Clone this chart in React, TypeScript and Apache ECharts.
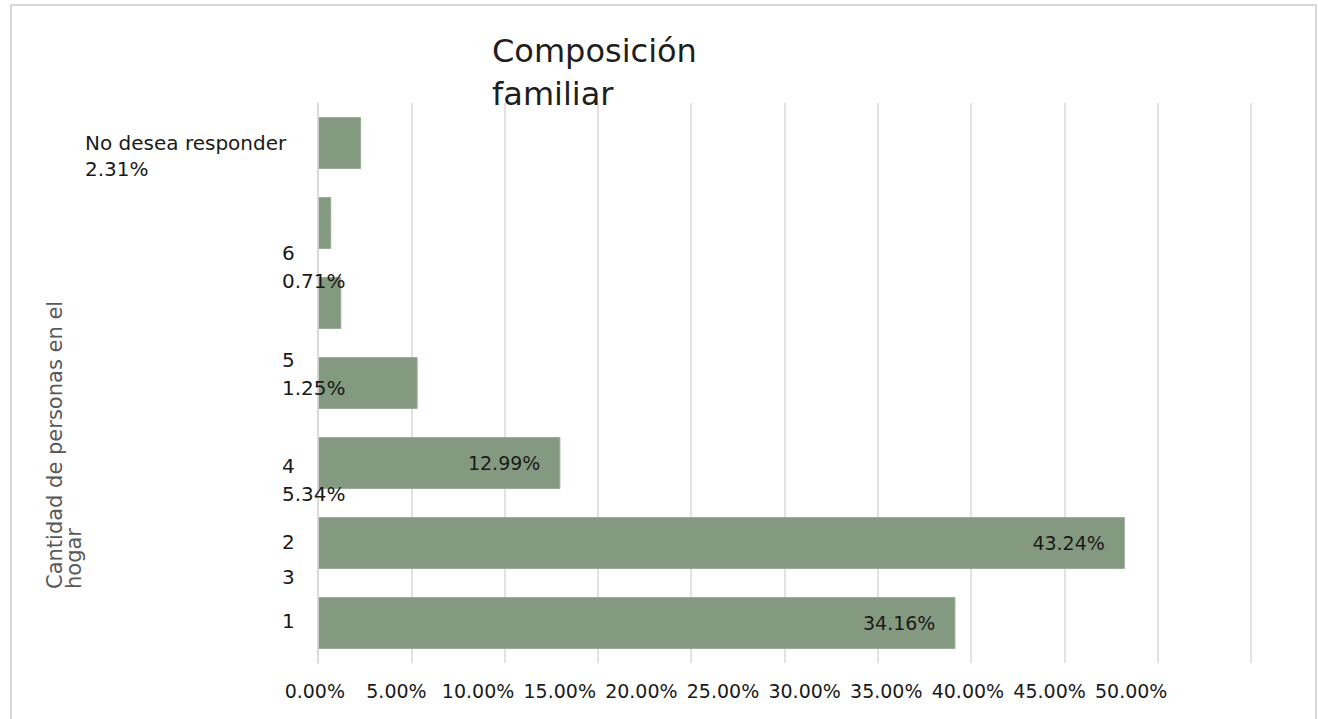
import React, { useEffect, useRef } from "react";
import * as echarts from "echarts";

// Underlying categories (top to bottom) and values (%)
const categories = ["No desea responder", "6", "5", "4", "3", "2", "1"];
const values = [2.31, 0.71, 1.25, 5.34, 12.99, 43.24, 34.16];
const showInsideLabel = [false, false, false, false, true, true, true];
// Texts displayed beside the axis (as in the source picture)
const yLabelLines = [
  ["No desea responder", "2.31%"],
  [],
  ["6", "0.71%"],
  ["5", "1.25%"],
  ["4", "5.34%"],
  ["2", "3"],
  ["1"],
];
const yLabelShift = [13, 0, -36, -9, 17, 16, -2];
const tickLabels = ["0.00%", "5.00%", "10.00%", "15.00%", "20.00%", "25.00%", "30.00%", "35.00%", "40.00%", "45.00%", "50.00%"];
const titleText = "Composición\nfamiliar";
const yAxisTitle = "Cantidad de personas en el\nhogar";

const FONT = "'DejaVu Sans', Verdana, sans-serif";

export default function App() {
  const ref = useRef<HTMLDivElement>(null);
  useEffect(() => {
    if (!ref.current) return;
    const chart = echarts.init(ref.current, undefined, { renderer: "svg" });
    const catData = categories.map((c, i) => {
      const s = yLabelShift[i];
      const pad = s >= 0 ? [2 * s, 0, 0, 0] : [0, 0, -2 * s, 0];
      return { value: c, textStyle: { padding: pad } };
    });
    chart.setOption({
      animation: false,
      backgroundColor: "#ffffff",
      title: {
        text: titleText,
        left: 487,
        top: 24,
        textStyle: { fontFamily: FONT, fontSize: 32, fontWeight: "normal", color: "#1e1e1e", lineHeight: 43 },
      },
      grid: [
        { left: 318, right: 67, top: 103, bottom: 56 },
        { left: 274, width: 898, top: 672, height: 1 },
      ],
      xAxis: [
        {
          type: "value",
          gridIndex: 0,
          min: 0,
          max: 50,
          interval: 5,
          axisLabel: { show: false },
          axisLine: { show: false },
          axisTick: { show: false },
          splitLine: { show: true, lineStyle: { color: "#d9d9d9", width: 1.5 } },
        },
        {
          type: "category",
          gridIndex: 1,
          data: tickLabels,
          axisLine: { show: false },
          axisTick: { show: false },
          splitLine: { show: false },
          axisLabel: { interval: 0, margin: 8, fontFamily: FONT, fontSize: 19, color: "#1a1a1a" },
        },
      ],
      yAxis: [
        {
          type: "category",
          gridIndex: 0,
          inverse: true,
          z: 10,
          data: catData,
          axisLine: { show: true, lineStyle: { color: "#d9d9d9", width: 1.5 } },
          axisTick: { show: false },
          axisLabel: {
            interval: 0,
            margin: 21,
            align: "right",
            fontFamily: FONT,
            fontSize: 20,
            color: "#1a1a1a",
            formatter: (_v: string, idx: number) => {
              const lines = yLabelLines[idx] || [];
              const st = idx === 0 ? "w" : idx === 5 ? "m" : "n";
              return lines.map((l) => `{${st}|${l}}`).join("\n");
            },
            rich: {
              w: { width: 212, align: "left", lineHeight: 26, fontFamily: FONT, fontSize: 20, color: "#1a1a1a" },
              n: { width: 15, align: "left", lineHeight: 28, fontFamily: FONT, fontSize: 20, color: "#1a1a1a" },
              m: { width: 15, align: "left", lineHeight: 35, fontFamily: FONT, fontSize: 20, color: "#1a1a1a" },
            },
          },
        },
        { type: "value", gridIndex: 1, show: false },
      ],
      series: [
        {
          type: "bar",
          xAxisIndex: 0,
          yAxisIndex: 0,
          z: 2,
          barWidth: 52,
          itemStyle: { color: "#849a80", borderColor: "#9aad96", borderWidth: 1 },
          label: {
            position: "insideRight",
            distance: 20,
            fontFamily: FONT,
            fontSize: 19,
            color: "#1a1a1a",
            formatter: (p: any) => Number(p.value).toFixed(2) + "%",
          },
          data: values.map((v, i) => ({ value: v, label: { show: showInsideLabel[i] } })),
        },
      ],
      graphic: [
        {
          type: "rect",
          shape: { x: 11, y: 5, width: 1305, height: 730 },
          style: { fill: "none", stroke: "#d9d9d9", lineWidth: 2 },
          silent: true,
        },
        {
          type: "text",
          x: 45,
          y: 589,
          rotation: Math.PI / 2,
          style: {
            text: yAxisTitle,
            fontFamily: FONT,
            fontSize: 21,
            lineHeight: 19,
            fill: "#595959",
            align: "left",
            verticalAlign: "top",
          },
        },
      ],
    });
    return () => chart.dispose();
  }, []);
  return <div ref={ref} style={{ position: "absolute", left: 0, top: 0, width: 1318, height: 719 }} />;
}
